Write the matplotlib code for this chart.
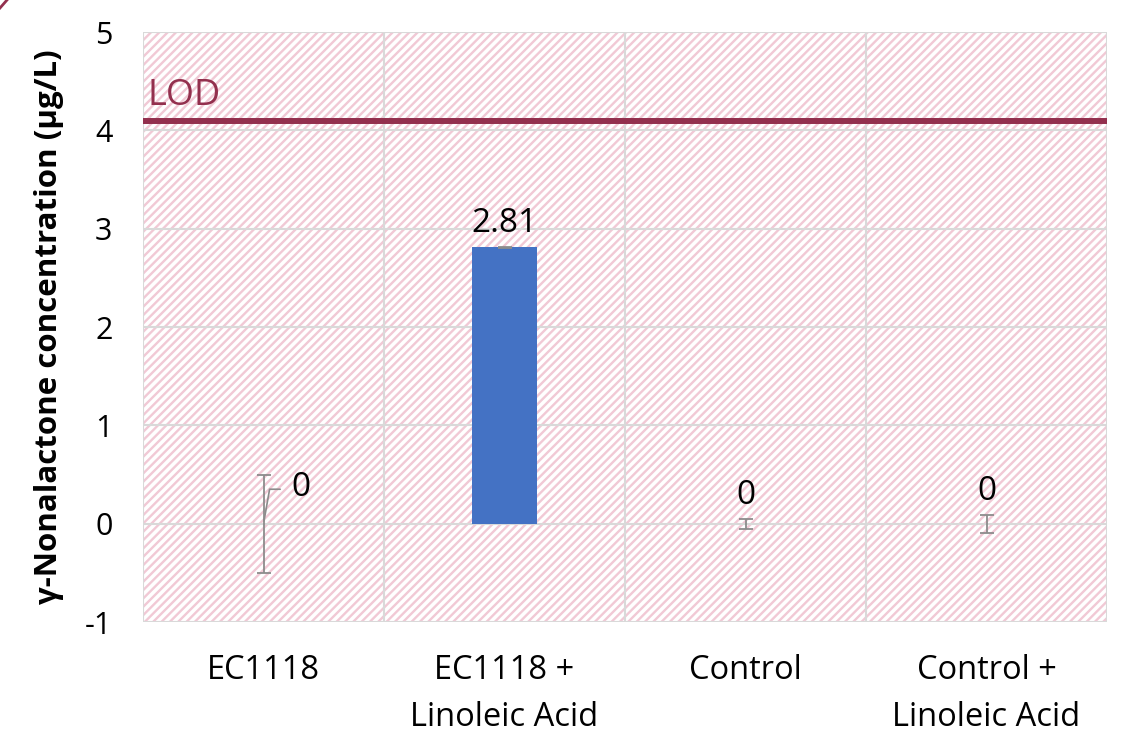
import numpy as np
import matplotlib.pyplot as plt
from matplotlib.patches import Rectangle
from matplotlib.lines import Line2D

plt.rcParams['font.family'] = ['Open Sans', 'DejaVu Sans']
plt.rcParams['hatch.linewidth'] = 1.7
plt.rcParams['axes.unicode_minus'] = False

categories = ['EC1118', 'EC1118 +\nLinoleic Acid', 'Control', 'Control +\nLinoleic Acid']
values = [0, 2.81, 0, 0]
errors = [0.5, 0.005, 0.05, 0.09]
labels = ['0', '2.81', '0', '0']
lod = 4.1

maroon = '#93304E'
grid_col = '#D9D9D9'
err_col = '#8C8C8C'

fig = plt.figure(figsize=(11.27, 7.33), dpi=100)
ax = fig.add_axes([0.1269, 0.1514, 0.8554, 0.8049])

x = np.arange(len(categories))
ax.set_xlim(-0.5, len(categories) - 0.5)
ax.set_ylim(-1, 5)

# hatched plot area
ax.add_patch(Rectangle((0, 0), 1, 1, transform=ax.transAxes, facecolor='white',
                       edgecolor='#F1C9D5', hatch='////', linewidth=0, zorder=0))

# grid
for yy in range(-1, 6):
    ax.axhline(yy, color=grid_col, lw=1.5, zorder=1)
for xx in np.arange(-0.5, len(categories), 1.0):
    ax.axvline(xx, color=grid_col, lw=1.5, zorder=1)
for s in ax.spines.values():
    s.set_visible(False)

ax.bar(x, values, width=0.27, color='#4472C4', zorder=3)
ax.errorbar(x, values, yerr=errors, fmt='none', ecolor=err_col, elinewidth=1.3,
            capsize=4.7, capthick=1.3, zorder=4)

# LOD line
ax.axhline(lod, color=maroon, lw=4.3, zorder=5)
ax.text(-0.48, lod + 0.07, 'LOD', color=maroon, fontsize=26, ha='left', va='bottom', zorder=6)

# data labels
for i, (v, e, lab) in enumerate(zip(values, errors, labels)):
    if i == 0:
        ax.annotate(lab, xy=(i, v), xytext=(20, 26), textcoords='offset points',
                    ha='left', va='center', fontsize=24,
                    arrowprops=dict(arrowstyle='-', color=err_col, lw=1.2, shrinkA=6, shrinkB=2,
                                    relpos=(0, 0.45),
                                    connectionstyle='angle,angleA=180,angleB=80,rad=0'))
    else:
        ax.annotate(lab, xy=(i, v + e), xytext=(0, 5), textcoords='offset points',
                    ha='center', va='bottom', fontsize=24)

ax.set_xticks(x)
ax.set_xticklabels(categories, fontsize=23.5, linespacing=1.55)
ax.set_yticks(range(-1, 6))
ax.tick_params(axis='y', labelsize=22, length=0, pad=22)
ax.tick_params(axis='x', length=0, pad=23)
ax.set_ylabel('γ-Nonalactone concentration (µg/L)', fontsize=22.5, fontweight='bold', labelpad=15)

# small decoration in the corner
fig.add_artist(Line2D([0, 7 / 1127], [1 - 8 / 733, 1], transform=fig.transFigure,
                      color=maroon, lw=2))

fig.savefig('out.png', dpi=100)
